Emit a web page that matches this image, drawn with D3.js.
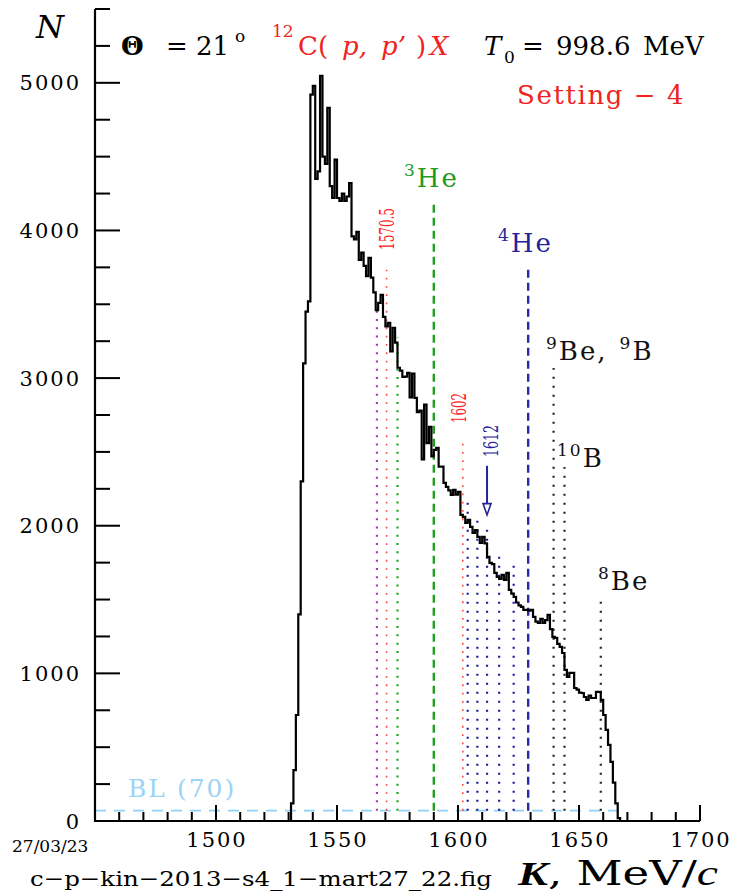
<!DOCTYPE html>
<html>
<head>
<meta charset="utf-8">
<script src="https://cdn.jsdelivr.net/npm/d3@7/dist/d3.min.js"></script>
<style>
  html, body { margin: 0; padding: 0; background: #fff; }
  svg { display: block; }
  text { font-family: "DejaVu Serif", serif; }
</style>
</head>
<body>
<svg id="chart" width="740" height="894" shape-rendering="auto"></svg>
<script>
// Momentum spectrum 12C(p,p')X, Setting 4: counts per 1 MeV/c bin starting at K = 1528
const binStart = 1528;
const binWidth = 1;
const counts = [
  0, 0, 0, 120, 345, 718, 1400, 2300, 3100, 3450,          // 1528-1537
  3520, 4920, 4980, 4350, 4400, 5047, 4500, 4450, 4830, 4300, // 1538-1547
  4220, 4480, 4220, 4200, 4250, 4200, 4230, 4320, 3960, 3940, // 1548-1557
  3990, 3800, 3850, 3760, 3690, 3814, 3680, 3580, 3460, 3510, // 1558-1567
  3564, 3415, 3350, 3374, 3180, 3340, 3240, 3070, 3050, 3008, // 1568-1577
  3010, 3035, 2870, 3030, 2866, 2770, 2780, 2450, 2820, 2560, // 1578-1587
  2670, 2470, 2514, 2527, 2400, 2400, 2290, 2263, 2240, 2209, // 1588-1597
  2243, 2210, 2230, 2073, 2060, 2019, 2040, 1992, 1951, 1970, // 1598-1607
  1924, 1883, 1924, 1880, 1789, 1748, 1740, 1680, 1653, 1640, // 1608-1617
  1667, 1633, 1680, 1565, 1540, 1518, 1480, 1460, 1450, 1430, // 1618-1627
  1430, 1425, 1430, 1382, 1350, 1341, 1370, 1341, 1360, 1396, // 1628-1637
  1300, 1247, 1240, 1200, 1179, 1138, 1023, 976, 1003, 1003,  // 1638-1647
  901, 890, 870, 867, 840, 820, 850, 833, 833, 874,           // 1648-1657
  874, 820, 718, 617, 515, 400, 260, 120, 20, 0               // 1658-1667
];

// Background level
const baseline = 70;
const baselineLabel = "BL (70)";

// Kinematic markers: momentum, upper end (counts), kind
const markerK   = [1566.5, 1570.5, 1575, 1590, 1602, 1604, 1608, 1612, 1617, 1623, 1629, 1639.5, 1644, 1659];
const markerTop = [3482, 3733, 3279, 4194, 2568, 2188, 2053, 2005, 1822, 1734, 3747, 3069, 2398, 1511];
const markerKind = ["purple", "red", "greenDot", "greenDash", "red", "blueDot", "blueDot",
                    "blueDot", "blueDot", "blueDot", "blueDash", "blackDot", "blackDot", "blackDot"];

// Axis ticks
const xMajorTicks = [1500, 1550, 1600, 1650, 1700];
const xMinorTicks = d3.range(1460, 1700, 10).filter(v => v % 50 !== 0);
const yMajorTicks = [0, 1000, 2000, 3000, 4000, 5000];
const yMinorTicks = d3.range(250, 5750, 250).filter(v => v % 1000 !== 0);

const kindStyle = {
  purple:    { color: "#a83ab8", width: 2.2, dash: "2,6.3" },
  red:       { color: "#ff4a4a", width: 1.6, dash: "1.8,6.5" },
  greenDot:  { color: "#22a022", width: 2.2, dash: "2,6.3" },
  greenDash: { color: "#22a022", width: 2.4, dash: "8,5" },
  blueDot:   { color: "#1c1ca0", width: 2.2, dash: "2,7" },
  blueDash:  { color: "#2a2aa4", width: 2.4, dash: "8,5" },
  blackDot:  { color: "#222", width: 2.2, dash: "2,7" }
};

const svg = d3.select("#chart");
const x = d3.scaleLinear().domain([1450, 1700]).range([95, 700]);
const y = d3.scaleLinear().domain([0, 5500]).range([821, 9]);
const x0 = x(1450), y0 = y(0);

// Background level line
svg.append("line")
  .attr("x1", x0).attr("x2", x(1668))
  .attr("y1", y(baseline)).attr("y2", y(baseline))
  .attr("stroke", "#8fd0f6").attr("stroke-width", 1.8)
  .attr("stroke-dasharray", "11,8");

svg.append("text")
  .attr("x", 128).attr("y", 797)
  .attr("font-size", 25).attr("letter-spacing", 2)
  .attr("fill", "#9ad3f5")
  .text(baselineLabel);

// Marker lines
svg.append("g").selectAll("line")
  .data(markerK)
  .join("line")
  .attr("x1", k => x(k)).attr("x2", k => x(k))
  .attr("y1", y(baseline)).attr("y2", (k, i) => y(markerTop[i]))
  .attr("stroke", (k, i) => kindStyle[markerKind[i]].color)
  .attr("stroke-width", (k, i) => kindStyle[markerKind[i]].width)
  .attr("stroke-dasharray", (k, i) => kindStyle[markerKind[i]].dash);

// Histogram
const steps = counts.map((c, i) => [binStart + i * binWidth, c]);
steps.push([binStart + counts.length * binWidth, counts[counts.length - 1]]);
const line = d3.line().x(d => x(d[0])).y(d => y(d[1])).curve(d3.curveStepAfter);
svg.append("path")
  .attr("d", line(steps))
  .attr("fill", "none").attr("stroke", "#000").attr("stroke-width", 2.2)
  .attr("stroke-linejoin", "miter");

// Frame
svg.append("path")
  .attr("d", `M${x0},${y(5500)}V${y0}H${x(1700)}`)
  .attr("fill", "none").attr("stroke", "#000").attr("stroke-width", 2.2);

// Inward tick marks as filled bars
const tw = 2;
const tickG = svg.append("g").attr("fill", "#000");
tickG.selectAll("rect.ym").data(yMinorTicks).join("rect").attr("class", "ym")
  .attr("x", x0).attr("y", d => y(d) - tw / 2).attr("width", 15).attr("height", tw);
tickG.selectAll("rect.yM").data(yMajorTicks).join("rect").attr("class", "yM")
  .attr("x", x0).attr("y", d => y(d) - tw / 2).attr("width", 25).attr("height", tw);
tickG.selectAll("rect.xm").data(xMinorTicks).join("rect").attr("class", "xm")
  .attr("x", d => x(d) - tw / 2).attr("y", y0 - 9).attr("width", tw).attr("height", 9);
tickG.selectAll("rect.xM").data(xMajorTicks).join("rect").attr("class", "xM")
  .attr("x", d => x(d) - tw / 2).attr("y", y0 - 16).attr("width", tw).attr("height", 16);

// Tick labels
svg.append("g").selectAll("text")
  .data(yMajorTicks).join("text")
  .attr("x", x0 - 14).attr("y", d => y(d)).attr("dy", "0.36em")
  .attr("text-anchor", "end").attr("font-size", 21).attr("letter-spacing", 2)
  .text(d3.format("d"));
svg.append("g").selectAll("text")
  .data(xMajorTicks).join("text")
  .attr("x", d => x(d) + 1).attr("y", y0 + 11).attr("dy", "0.71em")
  .attr("text-anchor", "middle").attr("font-size", 21).attr("letter-spacing", 2)
  .text(d3.format("d"));

// Axis titles
svg.append("text").attr("x", 36).attr("y", 38)
  .attr("font-family", "Liberation Serif").attr("font-style", "italic")
  .attr("font-size", 32).text("N");

const kTitle = svg.append("text").attr("x", 518).attr("y", 885).attr("font-size", 33)
  .attr("textLength", 200).attr("lengthAdjust", "spacingAndGlyphs");
kTitle.append("tspan").attr("font-family", "Liberation Serif").attr("font-style", "italic")
  .attr("font-weight", "bold").text("K");
kTitle.append("tspan").text(", MeV/");
kTitle.append("tspan").attr("font-family", "Liberation Serif").attr("font-style", "italic")
  .attr("font-size", 35).text("c");

svg.append("text").attr("x", 12).attr("y", 852)
  .attr("font-family", "Liberation Sans").attr("font-size", 17).text("27/03/23");

svg.append("text").attr("x", 30).attr("y", 886)
  .attr("font-size", 21).attr("textLength", 462).attr("lengthAdjust", "spacingAndGlyphs")
  .text("c\u2212p\u2212kin\u22122013\u2212s4_1\u2212mart27_22.fig");

// Header
svg.append("text").attr("x", 121).attr("y", 55).attr("font-size", 26)
  .attr("font-weight", "bold").text("\u0398");
svg.append("text").attr("x", 166).attr("y", 55).attr("font-size", 26).text("= 21");
svg.append("text").attr("x", 235).attr("y", 42).attr("font-size", 17).text("o");

const red = "#f02222";
svg.append("text").attr("x", 272).attr("y", 37).attr("font-size", 17).attr("fill", red).text("12");
svg.append("text").attr("x", 298).attr("y", 55).attr("font-size", 26).attr("fill", red).text("C(");
svg.append("text").attr("x", 342).attr("y", 55).attr("font-size", 26).attr("fill", red)
  .attr("font-style", "italic").text("p,");
svg.append("text").attr("x", 381).attr("y", 55).attr("font-size", 26).attr("fill", red)
  .attr("font-style", "italic").text("p\u2019");
svg.append("text").attr("x", 416).attr("y", 55).attr("font-size", 26).attr("fill", red).text(")");
svg.append("text").attr("x", 430).attr("y", 55).attr("font-size", 26).attr("fill", red)
  .attr("font-style", "italic").text("X");

svg.append("text").attr("x", 484).attr("y", 55).attr("font-size", 26)
  .attr("font-style", "italic").text("T");
svg.append("text").attr("x", 504).attr("y", 63).attr("font-size", 17).text("0");
svg.append("text").attr("x", 522).attr("y", 55).attr("font-size", 26).text("=");
svg.append("text").attr("x", 556).attr("y", 55).attr("font-size", 26).text("998.6");
svg.append("text").attr("x", 643).attr("y", 55).attr("font-size", 26).text("MeV");

svg.append("text").attr("x", 517).attr("y", 104).attr("font-size", 26)
  .attr("letter-spacing", 1.6).attr("fill", red).text("Setting \u2212 4");

// Particle labels
function isotope(xp, yp, mass, name, color) {
  const t = svg.append("text").attr("x", xp).attr("y", yp).attr("fill", color).attr("letter-spacing", 2);
  t.append("tspan").attr("font-size", 17).attr("dy", -11).text(mass);
  t.append("tspan").attr("font-size", 26).attr("dy", 11).text(name);
  return t;
}
isotope(404, 187, "3", "He", "#1e9a1e");
isotope(498, 252, "4", "He", "#23239b");
const beB = isotope(546, 360, "9", "Be,", "#111");
beB.append("tspan").attr("font-size", 17).attr("dy", -11).attr("dx", 12).text("9");
beB.append("tspan").attr("font-size", 26).attr("dy", 11).text("B");
isotope(557, 467, "10", "B", "#111");
isotope(598, 590, "8", "Be", "#111");

// Rotated momentum values
function vlabel(k, yMid, len, txt, color) {
  svg.append("text")
    .attr("transform", `translate(${x(k)},${yMid}) rotate(-90)`)
    .attr("text-anchor", "middle").attr("dy", "0.36em")
    .attr("font-family", "DejaVu Sans Condensed, DejaVu Sans")
    .attr("font-size", 20).attr("fill", color)
    .attr("textLength", len).attr("lengthAdjust", "spacingAndGlyphs")
    .text(txt);
}
vlabel(1570.7, 229, 42, "1570.5", "#ff2020");
vlabel(1600.3, 408, 30, "1602", "#ff2020");
vlabel(1613.4, 441, 32, "1612", "#23239b");

// Arrow pointing at the 1612 marker
const ax = x(1612);
svg.append("line").attr("x1", ax).attr("x2", ax).attr("y1", y(2406)).attr("y2", y(2150))
  .attr("stroke", "#23239b").attr("stroke-width", 2);
svg.append("path")
  .attr("d", `M${ax - 4},${y(2150)}L${ax + 4},${y(2150)}L${ax},${y(2073)}Z`)
  .attr("fill", "#fff").attr("stroke", "#23239b").attr("stroke-width", 1.6);
</script>
</body>
</html>
